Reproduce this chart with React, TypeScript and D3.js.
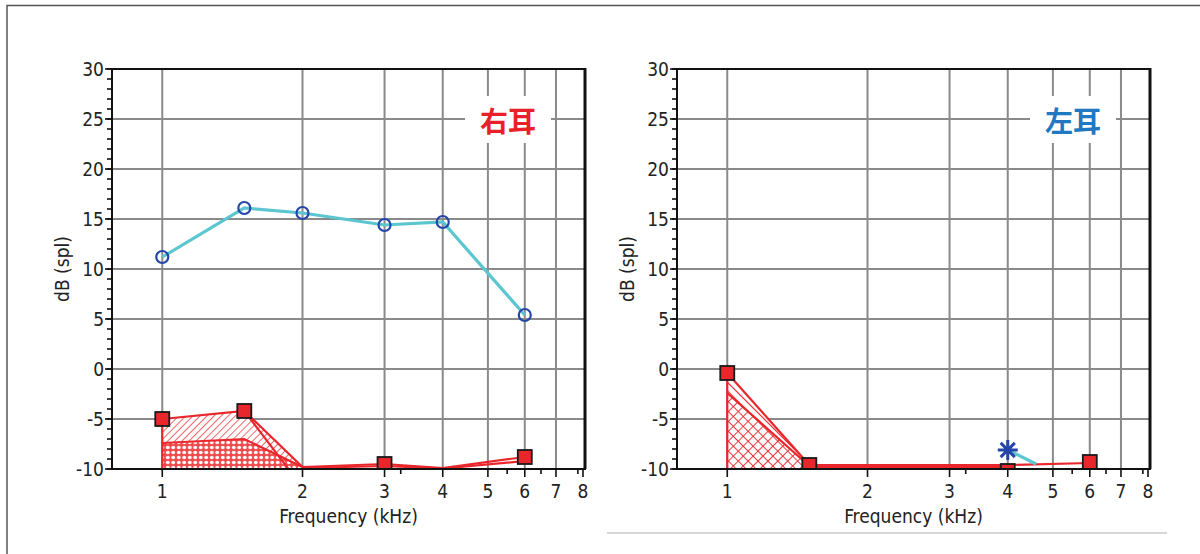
import React from 'react';
import * as d3 from 'd3';

const W = 1200;
const H = 554;

// axis ticks
const freqTicks = [1, 2, 3, 4, 5, 6, 7, 8];
const freqMinorTicks = [3.25, 5.5, 6.5, 7.8];
const dbTicks = [-10, -5, 0, 5, 10, 15, 20, 25, 30];
const dbMinorTicks = d3.range(-10, 31, 1);

// 右耳 (left panel)
const rAirFreq = [1, 1.5, 2, 3, 4, 6];
const rAirDb = [11.2, 16.1, 15.6, 14.4, 14.7, 5.4];
const rMarkFreq = [1, 1.5, 3, 6];
const rMarkDb = [-5, -4.2, -9.5, -8.8];
const rUpper: [number, number][] = [[1, -5], [1.5, -4.2], [2, -9.8]];
const rMiddle: [number, number][] = [[1, -7.4], [1.5, -7.0], [2, -9.8]];
const rCross: [number, number][] = [[1.5, -4.2], [1.88, -10.2]];
const rTail1: [number, number][] = [[2, -9.8], [3, -9.5], [4, -9.9], [6, -8.8]];
const rTail2: [number, number][] = [[2, -9.9], [3, -9.7], [4, -9.95], [6, -9.2]];

// 左耳 (right panel)
const lMarkFreq = [1, 1.5, 4, 6];
const lMarkDb = [-0.4, -9.6, -10.2, -9.3];
const lUpper: [number, number][] = [[1, -0.4], [1.5, -9.6]];
const lMiddle: [number, number][] = [[1, -2.4], [1.5, -9.7]];
const lTail1: [number, number][] = [[1.5, -9.6], [4, -9.6], [6, -9.4]];
const lTail2: [number, number][] = [[1.5, -9.8], [4, -9.8]];
const lStarFreq = 4;
const lStarDb = -8.1;
const lAirFreq = [4, 4.6];
const lAirDb = [-8.1, -9.5];

const x = d3.scaleLog().domain([0.78, 8.08]).range([112, 585]);
const y = d3.scaleLinear().domain([-10, 30]).range([469, 69]);
const line = d3.line<[number, number]>().x(d => x(d[0])).y(d => y(d[1]));

const RED = '#e8262b';
const CYAN = '#5cc6d0';
const BLUE = '#2546a8';
const GRID = '#8a8a8a';
const FONT = "Tahoma, 'DejaVu Sans Condensed', 'DejaVu Sans', sans-serif";

const zip = (a: number[], b: number[]): [number, number][] => a.map((v, i) => [v, b[i]]);

type PanelProps = {
  id: string;
  dx: number;
  title: string;
  titleColor: string;
  bands: { pts: [number, number][]; fill: string }[];
  lines: [number, number][][];
  air?: [number, number][];
  circles?: [number, number][];
  marks: [number, number][];
  star?: [number, number];
};

function starPath(cx: number, cy: number, r: number) {
  const p = d3.path();
  [0, 45, 90, 135].forEach(a => {
    const t = (a * Math.PI) / 180;
    p.moveTo(cx - r * Math.cos(t), cy - r * Math.sin(t));
    p.lineTo(cx + r * Math.cos(t), cy + r * Math.sin(t));
  });
  return p.toString();
}

function Panel(props: PanelProps) {
  const [x0, x1] = x.range();
  const [y0, y1] = y.range();
  const clip = `clip-${props.id}`;
  const tx = 508;
  const ty = 120;
  return (
    <g transform={`translate(${props.dx},0)`}>
      <defs>
        <clipPath id={clip}>
          <rect x={x0} y={y1} width={x1 - x0} height={y0 - y1} />
        </clipPath>
      </defs>
      {/* grid */}
      {freqTicks.slice(0, -1).map(f => (
        <line key={'gx' + f} x1={x(f)} x2={x(f)} y1={y1} y2={y0} stroke={GRID} strokeWidth={2} />
      ))}
      {dbTicks.slice(1, -1).map(d => (
        <line key={'gy' + d} x1={x0} x2={x1} y1={y(d)} y2={y(d)} stroke={GRID} strokeWidth={2} />
      ))}
      {/* title */}
      <rect x={tx - 43} y={ty - 24} width={86} height={47} fill="#fff" />
      <text x={tx} y={ty} fill={props.titleColor} fontSize={28} fontWeight={700}
        fontFamily="'Noto Sans CJK JP', 'Noto Sans CJK SC', sans-serif"
        textAnchor="middle" dominantBaseline="central">{props.title}</text>

      <g clipPath={`url(#${clip})`}>
        {props.bands.map((b, i) => (
          <path key={'b' + i} d={line(b.pts) + 'Z'} fill={b.fill} stroke="none" />
        ))}
        {props.lines.map((l, i) => (
          <path key={'l' + i} d={line(l) ?? ''} fill="none" stroke={RED} strokeWidth={2.2} />
        ))}
        {props.air && <path d={line(props.air) ?? ''} fill="none" stroke={CYAN} strokeWidth={3.2} />}
        {props.circles?.map((c, i) => (
          <circle key={'c' + i} cx={x(c[0])} cy={y(c[1])} r={6} fill="none" stroke={BLUE} strokeWidth={2.2} />
        ))}
        {props.marks.map((m, i) => (
          <rect key={'m' + i} x={x(m[0]) - 7} y={y(m[1]) - 7} width={14} height={14}
            fill={RED} stroke="#1a1a1a" strokeWidth={1.8} />
        ))}
        {props.star && (
          <path d={starPath(x(props.star[0]), y(props.star[1]), 10)} stroke={BLUE} strokeWidth={3} fill="none" />
        )}
      </g>

      {/* frame */}
      <line x1={x0} x2={x1} y1={y1} y2={y1} stroke="#111" strokeWidth={2} />
      <line x1={x1} x2={x1} y1={y1 - 1} y2={y0} stroke="#111" strokeWidth={3} />
      <line x1={x0} x2={x1 + 1} y1={y0} y2={y0} stroke="#111" strokeWidth={2} />
      <line x1={x0} x2={x0} y1={y1 - 1} y2={y0 + 1} stroke="#111" strokeWidth={2} />

      {/* y ticks */}
      {dbMinorTicks.map(d => (
        <line key={'ym' + d} x1={x0 - 5} x2={x0} y1={y(d)} y2={y(d)} stroke="#111" strokeWidth={1.6} />
      ))}
      {dbTicks.map(d => (
        <g key={'yt' + d}>
          <line x1={x0 - 7} x2={x0} y1={y(d)} y2={y(d)} stroke="#111" strokeWidth={1.6} />
          <text x={x0 - 8} y={y(d)} textAnchor="end" dominantBaseline="central"
            fontSize={19} fontFamily={FONT} fill="#222">{d}</text>
        </g>
      ))}
      {/* x ticks */}
      {freqMinorTicks.map(f => (
        <line key={'xm' + f} x1={x(f)} x2={x(f)} y1={y0} y2={y0 + 5} stroke="#111" strokeWidth={1.6} />
      ))}
      {freqTicks.map(f => (
        <g key={'xt' + f}>
          <line x1={x(f)} x2={x(f)} y1={y0} y2={y0 + 8} stroke="#111" strokeWidth={1.6} />
          <text x={x(f)} y={y0 + 22} textAnchor="middle" dominantBaseline="central"
            fontSize={19} fontFamily={FONT} fill="#222">{f}</text>
        </g>
      ))}
      <text x={(x0 + x1) / 2} y={516} textAnchor="middle" dominantBaseline="central"
        fontSize={19} fontFamily={FONT} fill="#222">Frequency (kHz)</text>
      <text transform={`translate(62,${(y0 + y1) / 2}) rotate(-90)`} textAnchor="middle"
        dominantBaseline="central" fontSize={19} fontFamily={FONT} fill="#222">dB (spl)</text>
    </g>
  );
}

export default function App() {
  const rMarks = zip(rMarkFreq, rMarkDb);
  const lMarks = zip(lMarkFreq, lMarkDb);
  const rAir = zip(rAirFreq, rAirDb);
  return (
    <svg width={W} height={H} style={{ position: 'absolute', left: 0, top: 0, background: '#fff' }}>
      <defs>
        <pattern id="hatch" patternUnits="userSpaceOnUse" width={5} height={5} patternTransform="rotate(45)">
          <rect width={5} height={5} fill="#fff" />
          <line x1={0} y1={0} x2={0} y2={5} stroke={RED} strokeWidth={1.4} />
        </pattern>
        <pattern id="hatch2" patternUnits="userSpaceOnUse" width={6} height={6} patternTransform="rotate(-45)">
          <rect width={6} height={6} fill="#fff" />
          <line x1={0} y1={0} x2={0} y2={6} stroke={RED} strokeWidth={2.2} />
        </pattern>
        <pattern id="dots" patternUnits="userSpaceOnUse" width={5.5} height={5}>
          <rect width={5.5} height={5} fill="#ee4a4c" />
          <ellipse cx={2.75} cy={2.5} rx={1.9} ry={1.8} fill="#fff" />
        </pattern>
        <pattern id="cross" patternUnits="userSpaceOnUse" width={7} height={7} patternTransform="rotate(45)">
          <rect width={7} height={7} fill="#fff" />
          <line x1={0} y1={0} x2={0} y2={7} stroke={RED} strokeWidth={1.8} />
          <line x1={0} y1={0} x2={7} y2={0} stroke={RED} strokeWidth={1.8} />
        </pattern>
      </defs>
      <rect width={W} height={H} fill="#fff" />
      {/* outer frame */}
      <path d="M7,554 V5.5 H1200" fill="none" stroke="#555" strokeWidth={1.5} />
      <line x1={607} x2={1167} y1={533} y2={533} stroke="#c8c8c8" strokeWidth={1.5} />

      <Panel
        id="r"
        dx={0}
        title="右耳"
        titleColor="#e8202a"
        bands={[
          { pts: [...rUpper, ...rMiddle.slice().reverse()], fill: 'url(#hatch)' },
          { pts: [...rMiddle, [2, -10], [1, -10]], fill: 'url(#dots)' },
        ]}
        lines={[rUpper, rMiddle, rCross, [[1, -5], [1, -10]], [[1, -10], [2, -10]], rTail1, rTail2]}
        air={rAir}
        circles={rAir}
        marks={rMarks}
      />
      <Panel
        id="l"
        dx={565}
        title="左耳"
        titleColor="#1f78c0"
        bands={[
          { pts: [...lUpper, ...lMiddle.slice().reverse()], fill: 'url(#hatch2)' },
          { pts: [...lMiddle, [1.5, -10], [1, -10]], fill: 'url(#cross)' },
        ]}
        lines={[lUpper, lMiddle, [[1, -0.4], [1, -10]], [[1, -10], [1.5, -10]], lTail1, lTail2]}
        air={zip(lAirFreq, lAirDb)}
        marks={lMarks}
        star={[lStarFreq, lStarDb]}
      />
    </svg>
  );
}
